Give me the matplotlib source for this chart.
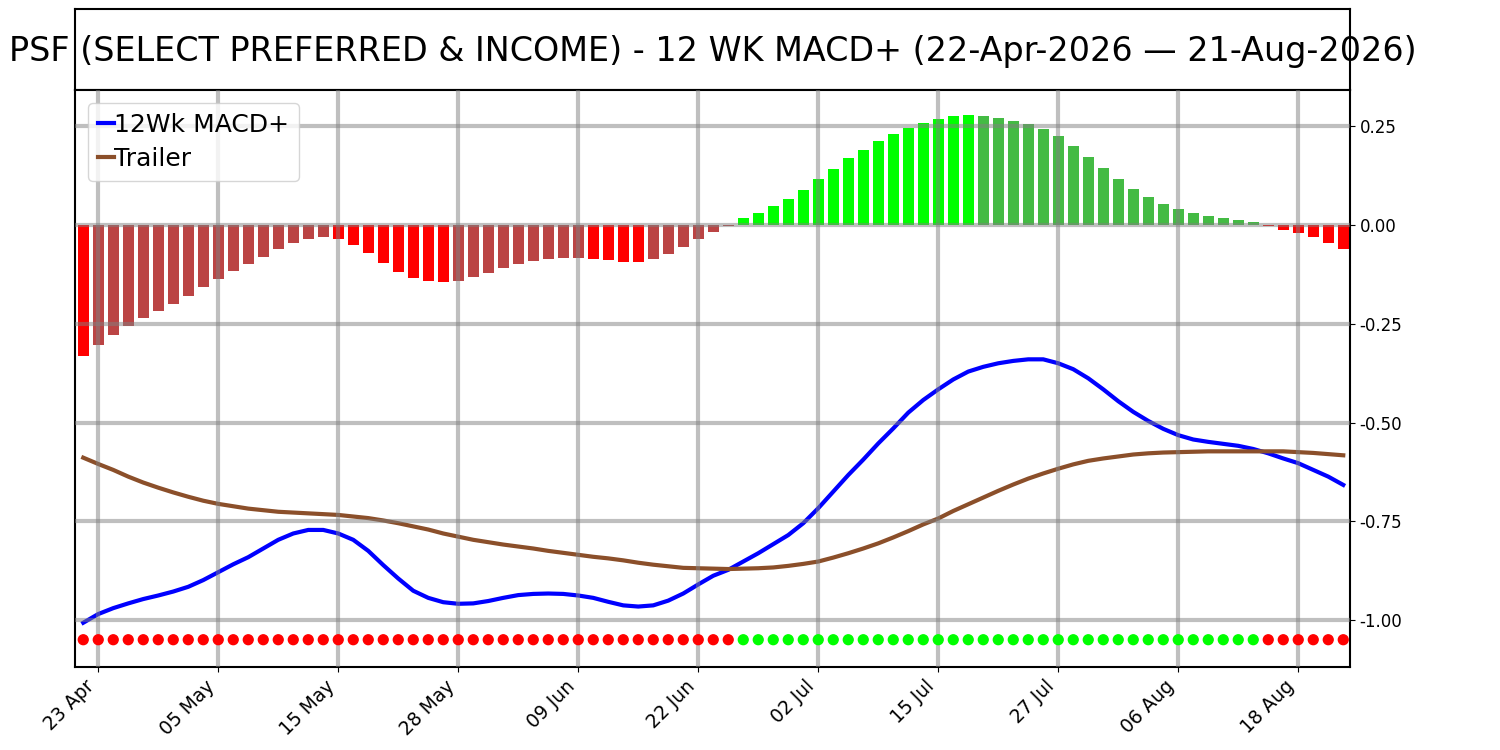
import matplotlib
matplotlib.use('Agg')
import matplotlib.pyplot as plt
import numpy as np
import pandas as pd

# trading days 22-Apr-2026 .. 21-Aug-2026 (US market holidays removed)
holidays = ['2026-05-25', '2026-06-19', '2026-07-03']
dates = pd.bdate_range('2026-04-22', '2026-08-21')
dates = dates[~dates.isin(pd.to_datetime(holidays))]

# histogram (MACD+ minus trailer, scaled)
hist = [-0.331, -0.303, -0.278, -0.255, -0.235, -0.217, -0.199, -0.179, -0.156, -0.136,
        -0.116, -0.098, -0.080, -0.060, -0.045, -0.035, -0.030, -0.035, -0.050, -0.070,
        -0.095, -0.118, -0.133, -0.141, -0.143, -0.141, -0.131, -0.121, -0.108, -0.098,
        -0.090, -0.085, -0.084, -0.083, -0.085, -0.088, -0.093, -0.094, -0.085, -0.073,
        -0.055, -0.035, -0.017, -0.002, 0.018, 0.031, 0.048, 0.066, 0.089, 0.116,
        0.142, 0.170, 0.190, 0.213, 0.230, 0.245, 0.258, 0.268, 0.276, 0.278,
        0.276, 0.271, 0.263, 0.256, 0.243, 0.225, 0.200, 0.172, 0.144, 0.116,
        0.091, 0.071, 0.053, 0.041, 0.030, 0.023, 0.018, 0.013, 0.008, -0.003,
        -0.012, -0.019, -0.030, -0.045, -0.060]

macd = [-1.007, -0.985, -0.970, -0.958, -0.947, -0.938, -0.928, -0.916, -0.899, -0.879,
        -0.859, -0.841, -0.819, -0.797, -0.781, -0.772, -0.772, -0.781, -0.797, -0.825,
        -0.861, -0.895, -0.926, -0.944, -0.955, -0.959, -0.958, -0.952, -0.944, -0.937,
        -0.934, -0.933, -0.934, -0.938, -0.944, -0.954, -0.963, -0.966, -0.963, -0.951,
        -0.933, -0.910, -0.888, -0.873, -0.852, -0.831, -0.808, -0.785, -0.755, -0.717,
        -0.675, -0.633, -0.594, -0.553, -0.515, -0.475, -0.443, -0.416, -0.391, -0.371,
        -0.359, -0.350, -0.344, -0.340, -0.340, -0.350, -0.365, -0.388, -0.416, -0.446,
        -0.473, -0.496, -0.516, -0.532, -0.543, -0.549, -0.554, -0.559, -0.567, -0.578,
        -0.591, -0.603, -0.620, -0.637, -0.658]

trailer = [-0.589, -0.605, -0.620, -0.637, -0.652, -0.665, -0.677, -0.688, -0.698, -0.706,
           -0.712, -0.718, -0.722, -0.726, -0.728, -0.730, -0.732, -0.734, -0.738, -0.742,
           -0.748, -0.755, -0.763, -0.771, -0.781, -0.789, -0.797, -0.803, -0.809, -0.814,
           -0.819, -0.825, -0.830, -0.835, -0.840, -0.844, -0.849, -0.855, -0.860, -0.864,
           -0.868, -0.869, -0.870, -0.871, -0.870, -0.869, -0.867, -0.863, -0.858, -0.852,
           -0.842, -0.831, -0.819, -0.806, -0.791, -0.775, -0.758, -0.743, -0.724, -0.707,
           -0.690, -0.673, -0.657, -0.642, -0.629, -0.617, -0.606, -0.597, -0.591, -0.586,
           -0.581, -0.578, -0.576, -0.575, -0.574, -0.573, -0.573, -0.573, -0.573, -0.573,
           -0.573, -0.575, -0.577, -0.580, -0.583]

signal_level = -1.05
yticks = [-1.0, -0.75, -0.5, -0.25, 0.0, 0.25]

x = np.arange(len(dates))

# bar colours: bright when moving away from zero, dull when moving back
bar_colors = []
for i, v in enumerate(hist):
    prev = hist[i - 1] if i > 0 else 0
    if v >= 0:
        bar_colors.append('#00ff00' if v >= prev else '#44bb44')
    else:
        bar_colors.append('#ff0000' if v <= prev else '#bb4444')
dot_colors = ['#00ff00' if v >= 0 else '#ff0000' for v in hist]

fig = plt.figure(figsize=(15, 7.5), dpi=100)

# title strip
tax = fig.add_axes([0.05, 0.88, 0.85, 0.108])
tax.set_xticks([])
tax.set_yticks([])
for s in tax.spines.values():
    s.set_linewidth(1.5)
tax.text(0.5, 0.48, 'PSF (SELECT PREFERRED & INCOME) - 12 WK MACD+ (22-Apr-2026 \u2014 21-Aug-2026)',
         ha='center', va='center', fontsize=24, transform=tax.transAxes, clip_on=False)

ax = fig.add_axes([0.05, 0.1107, 0.85, 0.7693])
ax.bar(x, hist, width=0.73, color=bar_colors, zorder=1)
ax.plot(x, macd, color='blue', lw=3, label='12Wk MACD+', zorder=2)
ax.plot(x, trailer, color='#8b4f2a', lw=3, label='Trailer', zorder=2)
ax.scatter(x, [signal_level] * len(x), c=dot_colors, s=50, zorder=3)

ax.set_xlim(-0.55, len(x) - 0.55)
ax.set_ylim(-1.119, 0.342)
ax.set_yticks(yticks)
ax.set_yticklabels(['%.2f' % t for t in yticks])
ax.yaxis.tick_right()
tick_idx = list(range(1, len(x), 8))
ax.set_xticks(tick_idx)
ax.set_xticklabels([dates[i].strftime('%d %b') for i in tick_idx], rotation=45, ha='right')
ax.tick_params(axis='y', labelsize=12)
ax.tick_params(axis='x', labelsize=13.5)
ax.set_axisbelow(False)
ax.grid(True, color='gray', alpha=0.5, lw=3, zorder=5)
for s in ax.spines.values():
    s.set_linewidth(1.5)

ax.legend(loc='upper left', fontsize=18, handlelength=0.65, handletextpad=0.0,
          borderaxespad=0.5, borderpad=0.4, labelspacing=0.4)

fig.savefig('out.png')
